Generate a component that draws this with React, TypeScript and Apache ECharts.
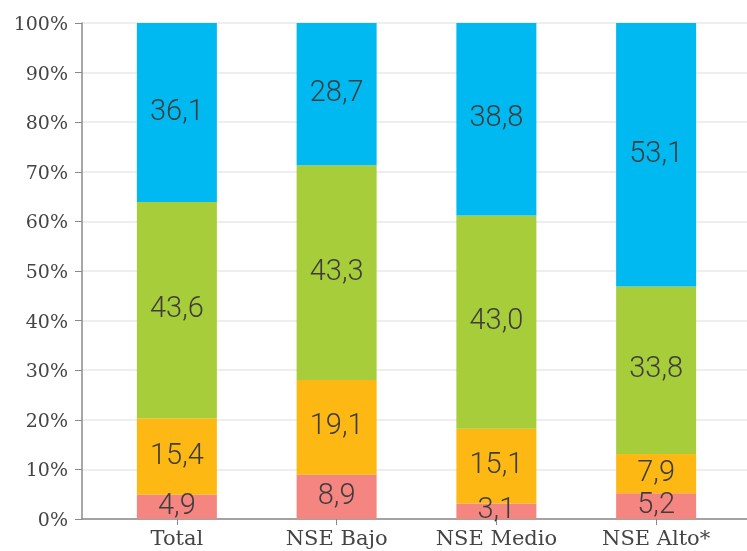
import React, { useEffect, useRef } from "react";
import * as echarts from "echarts";

const categories = ["Total", "NSE Bajo", "NSE Medio", "NSE Alto*"];
const serie1 = [4.9, 8.9, 3.1, 5.2];
const serie2 = [15.4, 19.1, 15.1, 7.9];
const serie3 = [43.6, 43.3, 43.0, 33.8];
const serie4 = [36.1, 28.7, 38.8, 53.1];
const seriesColors = ["#F58580", "#FDB814", "#A7CD3A", "#00B9F1"];

const axisFont = "'DejaVu Serif', 'Liberation Serif', serif";
const labelFont = "Roboto, 'Liberation Sans', sans-serif";

export default function App() {
  const ref = useRef<HTMLDivElement>(null);
  useEffect(() => {
    if (!ref.current) return;
    const chart = echarts.init(ref.current, undefined, { renderer: "svg" });
    const mk = (data: number[], i: number) => ({
      type: "bar",
      xAxisIndex: 1,
      yAxisIndex: 1,
      stack: "total",
      barWidth: 80,
      data,
      itemStyle: { color: seriesColors[i] },
      label: {
        show: true,
        position: "inside",
        offset: [0, -3],
        color: "#3d3d3d",
        fontFamily: labelFont,
        fontWeight: 300,
        fontSize: 29,
        formatter: (p: any) => Number(p.value).toFixed(1).replace(".", ","),
      },
    });
    chart.setOption({
      animation: false,
      grid: [
        { left: 82, right: 0, top: 23, bottom: 32 },
        { left: 97, right: 11, top: 23, bottom: 32 },
      ],
      xAxis: [
        {
          gridIndex: 0,
          type: "value",
          min: 0,
          max: 1,
          axisLine: { show: true, lineStyle: { color: "#8a8a8a", width: 1.5 } },
          axisTick: { show: false },
          axisLabel: { show: false },
          splitLine: { show: false },
        },
        {
          gridIndex: 1,
          type: "category",
          data: categories,
          axisLine: { show: false },
          axisTick: { show: true, alignWithLabel: true, length: 6, lineStyle: { color: "#8a8a8a" } },
          axisLabel: { color: "#444", fontFamily: axisFont, fontSize: 21, margin: 8 },
        },
      ],
      yAxis: [
        {
          gridIndex: 0,
          type: "value",
          min: 0,
          max: 100,
          interval: 10,
          axisLine: { show: true, lineStyle: { color: "#8a8a8a", width: 1.5 } },
          axisTick: { show: true, length: 7, lineStyle: { color: "#8a8a8a" } },
          axisLabel: { color: "#444", fontFamily: axisFont, fontSize: 19, margin: 14, formatter: "{value}%" },
          splitLine: { show: true, lineStyle: { color: "#e8e8e8", width: 1.5 } },
        },
        {
          gridIndex: 1,
          type: "value",
          min: 0,
          max: 100,
          show: false,
          splitLine: { show: false },
        },
      ],
      series: [mk(serie1, 0), mk(serie2, 1), mk(serie3, 2), mk(serie4, 3)],
    });
    return () => chart.dispose();
  }, []);
  return <div ref={ref} style={{ position: "fixed", left: 0, top: 0, width: 747, height: 551 }} />;
}
